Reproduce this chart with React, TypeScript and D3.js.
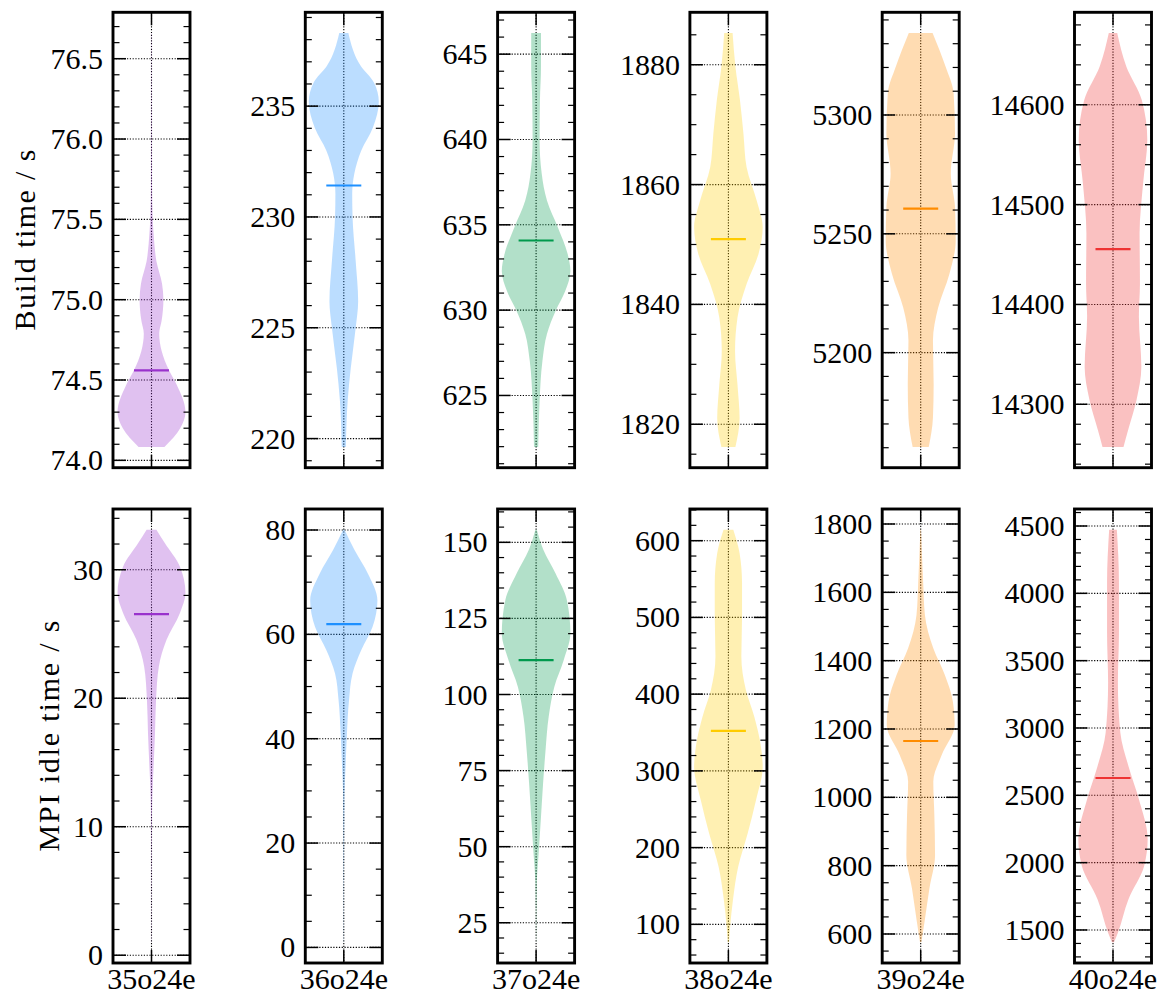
import React from "react";
import * as d3 from "d3";

const RUNS = ["35o24e", "36o24e", "37o24e", "38o24e", "39o24e", "40o24e"];
const COLORS = ["#9932CC", "#1E90FF", "#00994D", "#FFCC00", "#FF8C00", "#EE3333"];

// violin outlines: [value, relative density]
const BUILD_PROFILES: [number, number][][] = [
  [[76.66, 0.005], [76.2, 0.008], [75.7, 0.015], [75.5, 0.035], [75.41, 0.06], [75.24, 0.14], [75.1, 0.3], [75.0, 0.34], [74.87, 0.29], [74.79, 0.22], [74.68, 0.29], [74.56, 0.5], [74.47, 0.72], [74.3, 0.97], [74.2, 0.82], [74.083, 0.37]],
  [[238.3, 0.13], [236.8, 0.49], [236.07, 0.86], [235.2, 1.0], [234.03, 0.83], [233.0, 0.5], [231.95, 0.3], [231.04, 0.24], [230.0, 0.25], [228.0, 0.34], [226.2, 0.41], [225.0, 0.34], [223.2, 0.2], [221.7, 0.11], [219.62, 0.06]],
  [[646.24, 0.14], [644.27, 0.14], [642.3, 0.11], [639.96, 0.1], [638.0, 0.16], [636.43, 0.31], [634.86, 0.62], [633.3, 0.9], [632.3, 0.98], [631.1, 0.83], [629.96, 0.56], [628.6, 0.31], [627.0, 0.18], [624.66, 0.1], [621.98, 0.06]],
  [[1885.3, 0.12], [1879.7, 0.2], [1874.1, 0.33], [1868.5, 0.43], [1862.9, 0.52], [1857.3, 0.81], [1852.9, 0.98], [1848.4, 0.86], [1843.4, 0.52], [1837.8, 0.26], [1832.2, 0.19], [1826.6, 0.26], [1821.0, 0.32], [1816.2, 0.2]],
  [[5334.5, 0.34], [5320.4, 0.71], [5309.2, 0.94], [5292.3, 0.98], [5275.4, 0.86], [5261.3, 0.98], [5247.2, 1.0], [5233.1, 0.82], [5219.0, 0.5], [5205.0, 0.35], [5186.7, 0.37], [5172.6, 0.35], [5160.3, 0.23]],
  [[14671.9, 0.12], [14638.4, 0.38], [14605.0, 0.82], [14564.9, 0.98], [14521.4, 0.86], [14471.3, 0.76], [14421.1, 0.77], [14387.7, 0.74], [14337.5, 0.81], [14304.0, 0.67], [14273.9, 0.43], [14257.2, 0.3]],
];
const BUILD_MEDIANS = [74.56, 231.42, 634.08, 1850.9, 5260.6, 14455.5];
const BUILD_TICKS = [
  ["74.0", "74.5", "75.0", "75.5", "76.0", "76.5"],
  ["220", "225", "230", "235"],
  ["625", "630", "635", "640", "645"],
  ["1820", "1840", "1860", "1880"],
  ["5200", "5250", "5300"],
  ["14300", "14400", "14500", "14600"],
];
const BUILD_MINOR = [0.1, 1, 1, 5, 10, 20];

const IDLE_PROFILES: [number, number][][] = [
  [[33.12, 0.14], [32.08, 0.38], [30.26, 0.81], [28.18, 0.97], [26.62, 0.81], [24.55, 0.43], [22.47, 0.21], [19.87, 0.13], [17.27, 0.1], [14.68, 0.06], [12.86, 0.03], [10.78, 0.012], [6, 0.006], [1.0, 0.004]],
  [[80.07, 0.02], [76.1, 0.31], [71.6, 0.69], [66.5, 0.96], [61.4, 0.82], [57.0, 0.5], [52.5, 0.25], [47.4, 0.15], [41.0, 0.09], [34.6, 0.05], [29.5, 0.02], [15, 0.006], [0.97, 0.003]],
  [[154.17, 0.02], [147.5, 0.21], [139.9, 0.55], [131.0, 0.88], [120.1, 0.98], [111.3, 0.79], [102.5, 0.52], [92.7, 0.36], [81.7, 0.27], [70.8, 0.2], [59.8, 0.14], [48.9, 0.08], [37.9, 0.02], [18.56, 0.003]],
  [[614.4, 0.14], [583.6, 0.32], [544.5, 0.39], [501, 0.39], [448.9, 0.37], [405.4, 0.5], [370.6, 0.74], [331.5, 0.93], [305.4, 0.98], [262, 0.79], [218.5, 0.55], [175, 0.28], [131.7, 0.13], [96.9, 0.05], [76.5, 0.02]],
  [[1783.5, 0.01], [1631.2, 0.07], [1533.7, 0.12], [1436.2, 0.36], [1358.1, 0.69], [1280, 0.92], [1211.8, 0.97], [1124, 0.6], [1046, 0.36], [948.3, 0.39], [831.3, 0.41], [733.8, 0.25], [636.1, 0.11], [575.5, 0.02]],
  [[4473, 0.11], [4079, 0.17], [3707, 0.17], [3336, 0.14], [2965, 0.21], [2718, 0.44], [2470, 0.74], [2173, 0.99], [1975, 0.89], [1727, 0.44], [1480, 0.14], [1408, 0.03]],
];
const IDLE_MEDIANS = [26.55, 61.98, 111.28, 352.2, 1164.9, 2628.7];
const IDLE_TICKS = [
  ["0", "10", "20", "30"],
  ["0", "20", "40", "60", "80"],
  ["25", "50", "75", "100", "125", "150"],
  ["100", "200", "300", "400", "500", "600"],
  ["600", "800", "1000", "1200", "1400", "1600", "1800"],
  ["1500", "2000", "2500", "3000", "3500", "4000", "4500"],
];
const IDLE_MINOR = [2, 5, 5, 20, 50, 100];

const FONT = "Liberation Serif, Times New Roman, serif";
const PANEL_W = 77;
const COL_LEFT = 113;
const COL_STEP = 192.3;
const ROWS = [
  { top: 12.3, height: 455.4 },
  { top: 509, height: 454 },
];
const MAJOR_LEN = 13;
const MINOR_LEN = 6.5;

function Panel({ col, row, profile, median, ticks, minor, color, showX }) {
  const left = COL_LEFT + col * COL_STEP;
  const { top, height } = ROWS[row];
  const right = left + PANEL_W;
  const bottom = top + height;

  // matplotlib-ish autoscale: 5% margin around data range
  const vals = profile.map((d) => d[0]);
  const lo = d3.min(vals)!;
  const hi = d3.max(vals)!;
  const pad = (hi - lo) * 0.05;

  const x = d3.scaleLinear().domain([0.725, 1.275]).range([left, right]);
  const y = d3.scaleLinear().domain([lo - pad, hi + pad]).range([bottom, top]);

  const area = d3
    .area<[number, number]>()
    .y((d) => y(d[0]))
    .x0((d) => x(1 - 0.25 * d[1]))
    .x1((d) => x(1 + 0.25 * d[1]))
    .curve(d3.curveMonotoneY);

  const majors = ticks.map((t) => +t);
  const [d0, d1] = y.domain();
  const minors: number[] = [];
  for (let v = Math.ceil(d0 / minor) * minor; v <= d1 + 1e-9; v += minor) {
    const r = Math.round(v / minor) * minor;
    if (!majors.some((m) => Math.abs(m - r) < minor * 1e-3)) minors.push(r);
  }

  const cx = x(1);

  return (
    <g>
      {/* grid */}
      <g stroke="#000" strokeWidth={1.1} strokeDasharray="1.2,1.6">
        {majors.map((m, i) => (
          <line key={i} x1={left} x2={right} y1={y(m)} y2={y(m)} />
        ))}
        <line x1={cx} x2={cx} y1={top} y2={bottom} />
      </g>

      {/* violin body */}
      <path d={area(profile) || ""} fill={color} fillOpacity={0.3} stroke="none" />

      {/* median */}
      <line x1={x(0.875)} x2={x(1.125)} y1={y(median)} y2={y(median)} stroke={color} strokeWidth={2.2} />

      {/* ticks */}
      <g stroke="#000">
        {majors.map((m, i) => (
          <g key={i} strokeWidth={1.5}>
            <line x1={left} x2={left + MAJOR_LEN} y1={y(m)} y2={y(m)} />
            <line x1={right} x2={right - MAJOR_LEN} y1={y(m)} y2={y(m)} />
          </g>
        ))}
        {minors.map((m, i) => (
          <g key={i} strokeWidth={1.2}>
            <line x1={left} x2={left + MINOR_LEN} y1={y(m)} y2={y(m)} />
            <line x1={right} x2={right - MINOR_LEN} y1={y(m)} y2={y(m)} />
          </g>
        ))}
        <line x1={cx} x2={cx} y1={top} y2={top + MAJOR_LEN} strokeWidth={1.5} />
        <line x1={cx} x2={cx} y1={bottom} y2={bottom - MAJOR_LEN} strokeWidth={1.5} />
      </g>

      {/* tick labels */}
      <g fontFamily={FONT} fontSize={30} fill="#000" textAnchor="end">
        {ticks.map((t, i) => (
          <text key={i} x={left - 10} y={y(+t) + 10}>
            {t}
          </text>
        ))}
      </g>
      {showX && (
        <text x={cx} y={989} fontFamily={FONT} fontSize={30} textAnchor="middle">
          {RUNS[col]}
        </text>
      )}

      {/* frame */}
      <rect x={left} y={top} width={PANEL_W} height={height} fill="none" stroke="#000" strokeWidth={2.9} />
    </g>
  );
}

export default function App() {
  return (
    <svg
      width={1160}
      height={997}
      style={{ position: "absolute", left: 0, top: 0, background: "#fff" }}
    >
      {RUNS.map((r, i) => (
        <Panel
          key={"b" + r}
          col={i}
          row={0}
          profile={BUILD_PROFILES[i]}
          median={BUILD_MEDIANS[i]}
          ticks={BUILD_TICKS[i]}
          minor={BUILD_MINOR[i]}
          color={COLORS[i]}
          showX={false}
        />
      ))}
      {RUNS.map((r, i) => (
        <Panel
          key={"m" + r}
          col={i}
          row={1}
          profile={IDLE_PROFILES[i]}
          median={IDLE_MEDIANS[i]}
          ticks={IDLE_TICKS[i]}
          minor={IDLE_MINOR[i]}
          color={COLORS[i]}
          showX={true}
        />
      ))}

      <text
        transform={`translate(35,${ROWS[0].top + ROWS[0].height / 2}) rotate(-90)`}
        fontFamily={FONT}
        fontSize={30}
        textAnchor="middle"
        textLength={181}
        lengthAdjust="spacing"
      >
        Build time / s
      </text>
      <text
        transform={`translate(58.5,${ROWS[1].top + ROWS[1].height / 2}) rotate(-90)`}
        fontFamily={FONT}
        fontSize={30}
        textAnchor="middle"
        textLength={231}
        lengthAdjust="spacing"
      >
        MPI idle time / s
      </text>
    </svg>
  );
}
